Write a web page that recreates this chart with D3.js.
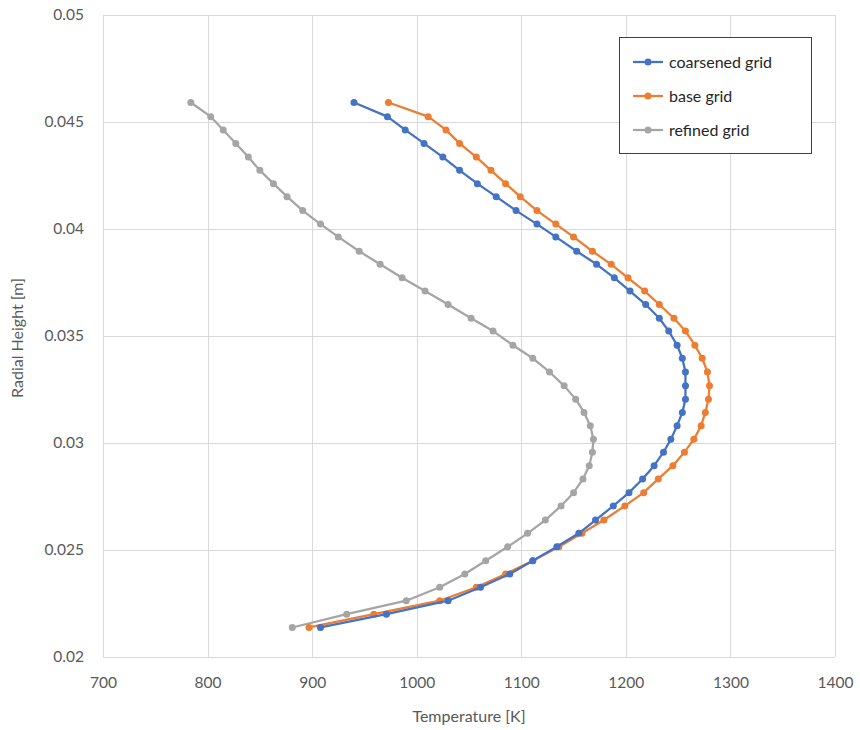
<!DOCTYPE html>
<html>
<head>
<meta charset="utf-8">
<script src="https://cdn.jsdelivr.net/npm/d3@7"></script>
<style>
  html, body { margin: 0; padding: 0; background: #fff; }
  svg { display: block; }
</style>
</head>
<body>
<svg id="chart" width="860" height="730"></svg>
<script>
// Radial heights [m] shared by all series
const heights = [0.04591, 0.04525, 0.04463, 0.04400, 0.04336, 0.04274, 0.04212, 0.04151, 0.04086, 0.04023,
                 0.03963, 0.03896, 0.03835, 0.03772, 0.03710, 0.03647, 0.03583, 0.03523, 0.03457, 0.03396,
                 0.03332, 0.03267, 0.03205, 0.03143, 0.03081, 0.03017, 0.02957, 0.02894, 0.02832, 0.02768,
                 0.02706, 0.02640, 0.02578, 0.02515, 0.02450, 0.02388, 0.02326, 0.02263, 0.02200, 0.02138];

const coarsenedTemps = [940, 972, 989, 1007, 1025, 1041, 1058, 1076, 1095, 1115,
                        1133, 1153, 1172, 1189, 1204, 1219, 1232, 1241, 1249, 1254,
                        1257, 1257, 1257, 1254, 1249, 1243, 1236, 1227, 1216, 1203,
                        1188, 1171, 1155, 1134, 1111, 1089, 1061, 1030, 971, 908];

const baseTemps = [973, 1011, 1028, 1041, 1057, 1071, 1085, 1099, 1115, 1133,
                   1150, 1168, 1186, 1202, 1218, 1232, 1246, 1257, 1266, 1273,
                   1278, 1280, 1279, 1276, 1272, 1265, 1256, 1245, 1231, 1217,
                   1199, 1179, 1158, 1136, 1111, 1085, 1057, 1022, 959, 897];

const refinedTemps = [784, 803, 815, 827, 839, 850, 863, 876, 891, 908,
                      925, 945, 965, 986, 1008, 1030, 1052, 1073, 1092, 1111,
                      1127, 1141, 1152, 1160, 1166, 1169, 1168, 1165, 1159, 1150,
                      1138, 1123, 1106, 1087, 1066, 1046, 1022, 990, 933, 881];

const seriesNames = ["coarsened grid", "base grid", "refined grid"];
const seriesColors = ["#4472C4", "#ED7D31", "#A5A5A5"];
const xTicks = [700, 800, 900, 1000, 1100, 1200, 1300, 1400];
const yTicks = [0.02, 0.025, 0.03, 0.035, 0.04, 0.045, 0.05];

const series = [coarsenedTemps, baseTemps, refinedTemps].map((temps, i) => ({
  name: seriesNames[i],
  color: seriesColors[i],
  points: temps.map((t, j) => ({ t: t, h: heights[j] }))
}));

const svg = d3.select("#chart");
const font = "Lato, 'Open Sans', 'Liberation Sans', sans-serif";

const pLeft = 103, pRight = 835, pTop = 15, pBottom = 657;
const x = d3.scaleLinear().domain([700, 1400]).range([pLeft, pRight]);
const y = d3.scaleLinear().domain([0.02, 0.05]).range([pBottom, pTop]);

// Gridlines
const grid = svg.append("g");
grid.selectAll("line.v").data(xTicks).enter().append("line").attr("class", "v")
  .attr("x1", d => Math.round(x(d)) + 0.5).attr("x2", d => Math.round(x(d)) + 0.5)
  .attr("y1", pTop).attr("y2", pBottom)
  .attr("stroke", "#D9D9D9").attr("stroke-width", 1);
grid.selectAll("line.h").data(yTicks).enter().append("line").attr("class", "h")
  .attr("y1", d => Math.round(y(d)) + 0.5).attr("y2", d => Math.round(y(d)) + 0.5)
  .attr("x1", pLeft).attr("x2", pRight)
  .attr("stroke", "#D9D9D9").attr("stroke-width", 1);

// Axes (labels only)
const xAxis = d3.axisBottom(x).tickValues(xTicks).tickSize(0).tickPadding(0).tickFormat(d3.format("d"));
const gx = svg.append("g").attr("transform", `translate(0,${pBottom + 22})`).call(xAxis);
gx.select(".domain").remove();
gx.selectAll("text").attr("font-family", font).attr("font-size", 15.5).attr("fill", "#595959").attr("dy", "0.6em");

const yAxis = d3.axisLeft(y).tickValues(yTicks).tickSize(0).tickPadding(0).tickFormat(d => String(+d.toFixed(3)));
const gy = svg.append("g").attr("transform", `translate(${pLeft - 19},0)`).call(yAxis);
gy.select(".domain").remove();
gy.selectAll("text").attr("font-family", font).attr("font-size", 15.5).attr("fill", "#595959");

// Axis titles
svg.append("text").attr("x", 469).attr("y", 722)
  .attr("text-anchor", "middle").attr("font-family", font).attr("font-size", 16).attr("fill", "#595959")
  .text("Temperature [K]");
svg.append("text").attr("transform", `translate(23,338) rotate(-90)`)
  .attr("text-anchor", "middle").attr("font-family", font).attr("font-size", 16).attr("fill", "#595959")
  .text("Radial Height [m]");

// Series
const line = d3.line().x(d => x(d.t)).y(d => y(d.h));
const sg = svg.selectAll("g.series").data(series.slice().reverse()).enter().append("g").attr("class", "series");
sg.append("path").attr("d", d => line(d.points)).attr("fill", "none")
  .attr("stroke", d => d.color).attr("stroke-width", 2.25).attr("stroke-linejoin", "round");
sg.each(function (s) {
  d3.select(this).selectAll("circle").data(s.points).enter().append("circle")
    .attr("cx", d => x(d.t)).attr("cy", d => y(d.h)).attr("r", 3.5).attr("fill", s.color);
});

// Legend
const lg = svg.append("g");
lg.append("rect").attr("x", 619.5).attr("y", 37.5).attr("width", 192).attr("height", 116)
  .attr("fill", "#fff").attr("stroke", "#404040").attr("stroke-width", 1);
series.forEach((s, i) => {
  const yy = 62 + i * 34;
  lg.append("line").attr("x1", 633).attr("x2", 663).attr("y1", yy).attr("y2", yy)
    .attr("stroke", s.color).attr("stroke-width", 2.25);
  lg.append("circle").attr("cx", 648).attr("cy", yy).attr("r", 3.5).attr("fill", s.color);
  lg.append("text").attr("x", 669).attr("y", yy).attr("dy", "0.35em")
    .attr("font-family", font).attr("font-size", 16).attr("fill", "#262626").text(s.name);
});
</script>
</body>
</html>
